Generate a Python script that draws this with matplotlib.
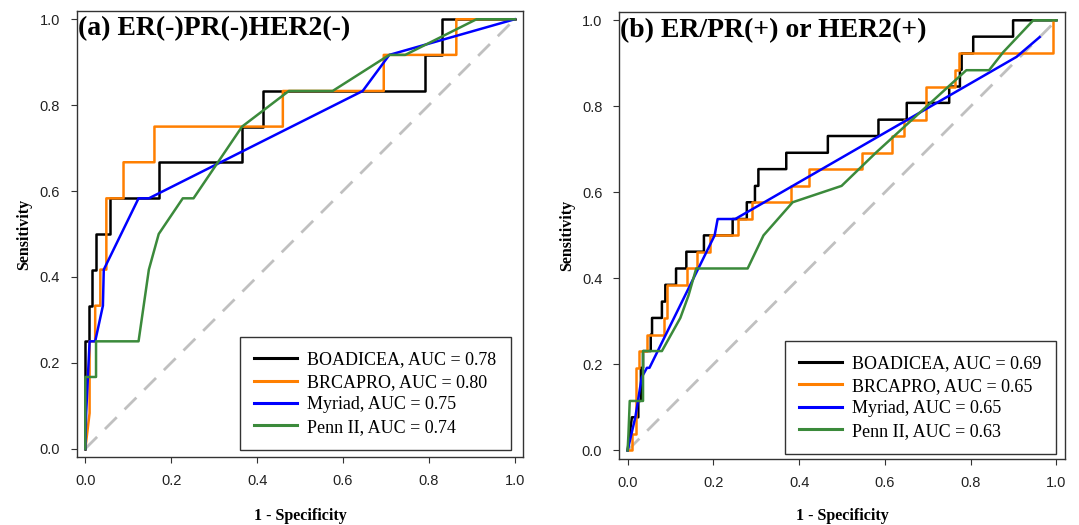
import matplotlib
matplotlib.use("Agg")
import matplotlib.pyplot as plt

# ROC curve vertices (1 - specificity, sensitivity)
# (a) ER(-)PR(-)HER2(-)
a_boad_x = [0, 0, 0.008, 0.008, 0.016, 0.016, 0.025, 0.025, 0.057, 0.057, 0.171, 0.171, 0.365, 0.365, 0.413, 0.413, 0.792, 0.792, 0.831, 0.831, 1]
a_boad_y = [0, 0.25, 0.25, 0.333, 0.333, 0.417, 0.417, 0.5, 0.5, 0.583, 0.583, 0.667, 0.667, 0.75, 0.75, 0.833, 0.833, 0.917, 0.917, 1, 1]
a_brca_x = [0, 0.01, 0.01, 0.023, 0.023, 0.035, 0.035, 0.049, 0.049, 0.089, 0.089, 0.161, 0.161, 0.46, 0.46, 0.695, 0.695, 0.864, 0.864, 1]
a_brca_y = [0, 0.083, 0.25, 0.25, 0.333, 0.333, 0.417, 0.417, 0.583, 0.583, 0.667, 0.667, 0.75, 0.75, 0.833, 0.833, 0.917, 0.917, 1, 1]
a_myr_x = [0, 0.002, 0.01, 0.023, 0.041, 0.043, 0.124, 0.148, 0.646, 0.708, 1]
a_myr_y = [0, 0.083, 0.25, 0.25, 0.333, 0.417, 0.583, 0.583, 0.833, 0.917, 1]
a_penn_x = [0, 0, 0.025, 0.025, 0.124, 0.148, 0.171, 0.227, 0.252, 0.365, 0.474, 0.576, 0.708, 0.745, 0.911, 1]
a_penn_y = [0, 0.167, 0.167, 0.25, 0.25, 0.417, 0.5, 0.583, 0.583, 0.75, 0.833, 0.833, 0.917, 0.917, 1, 1]
a_auc = [0.78, 0.80, 0.75, 0.74]

# (b) ER/PR(+) or HER2(+)
b_boad_x = [0, 0.01, 0.025, 0.025, 0.031, 0.031, 0.036, 0.036, 0.054, 0.054, 0.057, 0.057, 0.08, 0.08, 0.088, 0.088,
            0.113, 0.113, 0.137, 0.137, 0.178, 0.178, 0.245, 0.245, 0.278, 0.278, 0.297, 0.297, 0.305, 0.305,
            0.37, 0.37, 0.467, 0.467, 0.585, 0.585, 0.651, 0.651, 0.75, 0.75, 0.775, 0.775, 0.779, 0.779,
            0.806, 0.806, 0.899, 0.899, 1]
b_boad_y = [0, 0.077, 0.077, 0.115, 0.115, 0.192, 0.192, 0.231, 0.231, 0.269, 0.269, 0.308, 0.308, 0.346, 0.346, 0.385,
            0.385, 0.423, 0.423, 0.462, 0.462, 0.5, 0.5, 0.538, 0.538, 0.577, 0.577, 0.615, 0.615, 0.654,
            0.654, 0.692, 0.692, 0.731, 0.731, 0.769, 0.769, 0.808, 0.808, 0.846, 0.846, 0.885, 0.885, 0.923,
            0.923, 0.962, 0.962, 1, 1]
b_brca_x = [0, 0.01, 0.01, 0.02, 0.02, 0.026, 0.026, 0.045, 0.045, 0.084, 0.084, 0.092, 0.092, 0.138, 0.138, 0.161,
            0.161, 0.193, 0.193, 0.257, 0.257, 0.291, 0.291, 0.38, 0.38, 0.422, 0.422, 0.547, 0.547, 0.616,
            0.616, 0.645, 0.645, 0.696, 0.696, 0.763, 0.763, 0.773, 0.773, 0.993, 0.993]
b_brca_y = [0, 0, 0.038, 0.038, 0.192, 0.192, 0.231, 0.231, 0.269, 0.269, 0.308, 0.308, 0.385, 0.385, 0.423, 0.423,
            0.462, 0.462, 0.5, 0.5, 0.538, 0.538, 0.577, 0.577, 0.615, 0.615, 0.654, 0.654, 0.692, 0.692,
            0.731, 0.731, 0.769, 0.769, 0.846, 0.846, 0.885, 0.885, 0.923, 0.923, 1]
b_myr_x = [0, 0.018, 0.033, 0.045, 0.051, 0.203, 0.21, 0.251, 0.907, 0.961]
b_myr_y = [0, 0.077, 0.17, 0.192, 0.192, 0.5, 0.538, 0.538, 0.915, 0.961]
b_penn_x = [0, 0.002, 0.005, 0.036, 0.036, 0.08, 0.123, 0.142, 0.16, 0.28, 0.317, 0.385, 0.499, 0.581, 0.79, 0.843, 0.876, 0.946, 1]
b_penn_y = [0, 0.038, 0.115, 0.115, 0.231, 0.231, 0.308, 0.36, 0.423, 0.423, 0.5, 0.577, 0.615, 0.694, 0.884, 0.884, 0.926, 1, 1]
b_auc = [0.69, 0.65, 0.65, 0.63]

models = ["BOADICEA", "BRCAPRO", "Myriad", "Penn II"]
colors = ["black", "#ff7f00", "#0000ff", "#3b8a3b"]
ticks = [0.0, 0.2, 0.4, 0.6, 0.8, 1.0]

fig = plt.figure(figsize=(10.79, 5.25), dpi=100)
ax1 = fig.add_axes([0.0711, 0.129, 0.4139, 0.8507])
ax2 = fig.add_axes([0.5737, 0.1257, 0.4133, 0.852])

panels = [
    (ax1, "(a) ER(-)PR(-)HER2(-)",
     [(a_boad_x, a_boad_y), (a_brca_x, a_brca_y), (a_myr_x, a_myr_y), (a_penn_x, a_penn_y)], a_auc, 0.972, 0.016, 14.5),
    (ax2, "(b) ER/PR(+) or HER2(+)",
     [(b_boad_x, b_boad_y), (b_brca_x, b_brca_y), (b_myr_x, b_myr_y), (b_penn_x, b_penn_y)], b_auc, 0.98, 0.011, 13.5),
]

for ax, title, curves, aucs, lx, ly, xpad in panels:
    ax.plot([0, 1], [0, 1], color="#c0c0c0", lw=2, dashes=(6, 4), zorder=1)
    for (xs, ys), name, c, auc in zip(curves, models, colors, aucs):
        ax.plot(xs, ys, color=c, lw=1.8, label=f"{name}, AUC = {auc:.2f}", zorder=2)
    ax.set_xlim(-0.02, 1.02)
    ax.set_ylim(-0.02, 1.02)
    ax.set_xticks(ticks)
    ax.set_yticks(ticks)
    ax.set_xticklabels([f"{t:.1f}" for t in ticks], family="Liberation Sans", fontsize=10.5, color="#222222")
    ax.set_yticklabels([f"{t:.1f}" for t in ticks], family="Liberation Sans", fontsize=10.5, color="#222222")
    ax.tick_params(length=4, width=0.8, pad=8, color="#333333")
    for s in ax.spines.values():
        s.set_linewidth(1.0)
        s.set_color("#333333")
    ax.set_xlabel("1 - Specificity", family="Liberation Serif", fontweight="bold", fontsize=11.5, labelpad=xpad)
    ax.set_ylabel("Sensitivity", family="Liberation Serif", fontweight="bold", fontsize=11.5, labelpad=5)
    ax.text(-0.018, 0.962, title, family="Liberation Serif", fontweight="bold", fontsize=20,
            ha="left", va="baseline")
    leg = ax.legend(loc="lower right", bbox_to_anchor=(lx, ly), borderaxespad=0,
                    prop={"family": "Liberation Serif", "size": 13}, fancybox=False,
                    edgecolor="#333333", framealpha=1, handlelength=2.4, handletextpad=0.55,
                    labelspacing=0.3, borderpad=0.8)
    leg.get_frame().set_linewidth(1.0)
    for h in leg.get_lines():
        h.set_linewidth(2.2)

fig.savefig("out.png", dpi=100)
